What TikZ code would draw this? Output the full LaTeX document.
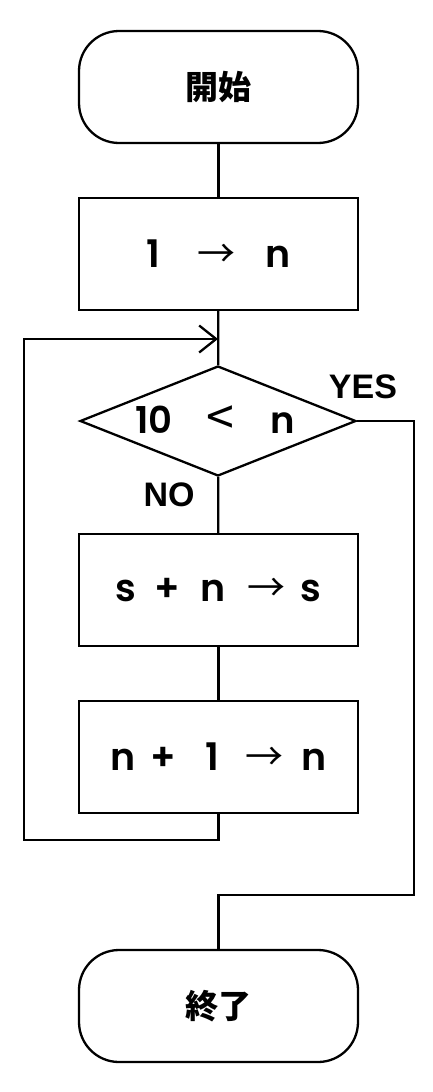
\documentclass[tikz,border=0pt]{standalone}
\usepackage{fontspec}
\setmainfont{Poppins}[UprightFont=* SemiBold]
\newfontfamily\cjk{Noto Sans CJK JP}
\newfontfamily\lab{Liberation Sans}
\usetikzlibrary{arrows.meta,shapes.geometric}
\newcommand{\arr}{{\cjk →}}
\begin{document}
\begin{tikzpicture}[x=1pt,y=-1pt,
  lw/.style={line width=2.3pt},
  term/.style={lw,draw,rectangle,rounded corners=40pt,minimum width=279pt,minimum height=112pt,inner sep=0pt,font=\fontsize{33}{36}\selectfont\cjk\bfseries},
  proc/.style={lw,draw,rectangle,minimum width=279pt,minimum height=112pt,inner sep=0pt,font=\fontsize{38}{42}\selectfont},
  dec/.style={lw,draw,diamond,minimum width=276pt,minimum height=110pt,inner sep=0pt,font=\fontsize{37}{40}\selectfont},
  lbl/.style={inner sep=0pt,font=\fontsize{34}{38}\selectfont\lab\bfseries},
  conn/.style={lw},
  tip/.style={-{Straight Barb[length=17pt,width=27pt,line width=2.3pt]}}
]
\useasboundingbox (0,0) rectangle (432,1092);
\node[term] (start) at (218.5,87) {開始};
\node[proc] (b1) at (218.5,254) {1\hspace{38pt}\arr\hspace{30pt}n};
\node[dec] (d) at (218,421) {\makebox[0pt]{10\hspace{34pt}\raisebox{-2pt}{\fontsize{50}{50}\selectfont\cjk <}\hspace{36pt}n\hspace{6pt}}};
\node[proc] (b2) at (218.5,590) {s\hspace{18pt}+\hspace{20pt}n\hspace{22pt}\arr\hspace{15pt}s};
\node[proc] (b3) at (218.5,757) {n\hspace{15pt}+\hspace{29pt}1\hspace{26pt}\arr\hspace{18pt}n};
\node[term] (end) at (218.5,1006) {終了};
\node[lbl] (yes) at (363,386.5) {YES};
\node[lbl] (no) at (169,494.5) {NO};
\coordinate (merge) at (218,339);
\coordinate (loopL) at (24,840);
\coordinate (yesR) at (414,895);
\draw[conn] (start) -- (b1);
\draw[conn] (b1) -- (d);
\draw[conn] (d) -- (b2);
\draw[conn] (b2) -- (b3);
\draw[conn,tip] (b3.south) |- (loopL) |- (merge);
\draw[conn] (d.east) -| (yesR) -| (end.north);
\end{tikzpicture}
\end{document}
